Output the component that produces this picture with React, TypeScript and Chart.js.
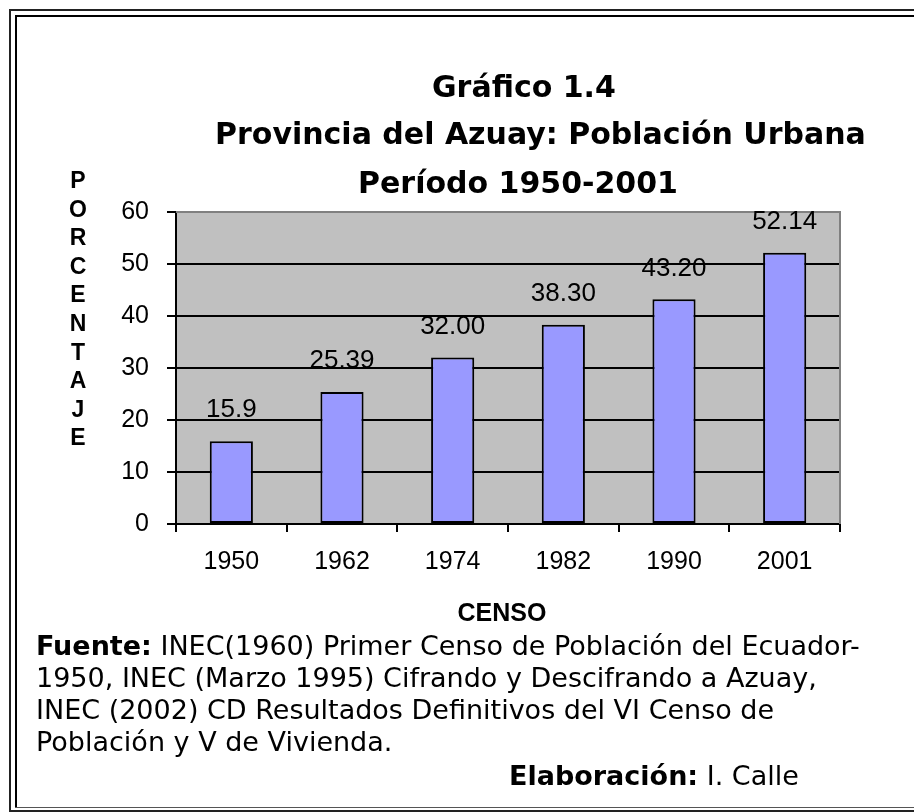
import React, { useEffect, useRef } from 'react';
import { Chart, registerables } from 'chart.js';

Chart.register(...registerables);

// ---- data ----
const categories = ['1950', '1962', '1974', '1982', '1990', '2001'];
const values = [15.9, 25.39, 32.0, 38.3, 43.2, 52.14];
const valueLabels = ['15.9', '25.39', '32.00', '38.30', '43.20', '52.14'];
const yTicks = [0, 10, 20, 30, 40, 50, 60];
const titleLines = ['Gráfico 1.4', 'Provincia del Azuay: Población Urbana', 'Período 1950-2001'];
const yAxisTitle = 'PORCENTAJE';
const xAxisTitle = 'CENSO';
const sourceLabel = 'Fuente:';
const sourceLines = [
  ' INEC(1960) Primer Censo de Población del Ecuador-',
  '1950, INEC (Marzo 1995) Cifrando y Descifrando a Azuay,',
  'INEC (2002) CD Resultados Definitivos del VI Censo de',
  'Población y V de Vivienda.',
];
const authorLabel = 'Elaboración:';
const authorName = ' I. Calle';

const ARIAL = '"Liberation Sans", Arial, sans-serif';
const VERDANA = '"DejaVu Sans", Verdana, sans-serif';

const decorPlugin = {
  id: 'decor',
  beforeDraw(chart: any) {
    const { ctx, chartArea: a, width, height } = chart;
    ctx.save();
    // double frame (left, top, bottom)
    ctx.fillStyle = '#222';
    ctx.fillRect(1, 1, 2, height - 3);
    ctx.fillRect(1, 1, width, 2);
    ctx.fillRect(1, height - 2, width, 2);
    ctx.fillStyle = '#000';
    ctx.fillRect(7, 7, 2, height - 11);
    ctx.fillRect(7, 7, width, 2);
    ctx.fillStyle = '#555';
    ctx.fillRect(7, height - 5, width, 1);
    // plot background
    ctx.fillStyle = '#c0c0c0';
    ctx.fillRect(a.left, a.top, a.right - a.left, a.bottom - a.top);
    ctx.restore();
  },
  beforeDatasetsDraw(chart: any) {
    const { ctx, chartArea: a } = chart;
    ctx.save();
    ctx.strokeStyle = '#808080';
    ctx.lineWidth = 2;
    ctx.beginPath();
    ctx.moveTo(a.left, a.top);
    ctx.lineTo(a.right, a.top);
    ctx.lineTo(a.right, a.bottom);
    ctx.stroke();
    ctx.restore();
  },
  afterDatasetsDraw(chart: any) {
    const { ctx } = chart;
    const meta = chart.getDatasetMeta(0);
    ctx.save();
    ctx.fillStyle = '#000';
    ctx.font = `26px ${ARIAL}`;
    ctx.textAlign = 'center';
    ctx.textBaseline = 'middle';
    meta.data.forEach((bar: any, i: number) => {
      ctx.fillText(valueLabels[i], bar.x, bar.y - 31);
    });
    ctx.restore();
  },
  afterDraw(chart: any) {
    const { ctx, chartArea: a } = chart;
    ctx.save();
    ctx.fillStyle = '#000';
    ctx.textBaseline = 'alphabetic';
    // title
    ctx.font = `bold 30px ${VERDANA}`;
    ctx.textAlign = 'left';
    const titleX = [424, 207, 350];
    const titleY = [89, 136, 185];
    titleLines.forEach((t, i) => ctx.fillText(t, titleX[i], titleY[i]));
    // y axis title, stacked letters
    ctx.font = `bold 23px ${ARIAL}`;
    ctx.textAlign = 'center';
    yAxisTitle.split('').forEach((ch, i) => ctx.fillText(ch, 70, 180 + i * 28.6));
    // x axis title
    ctx.font = `bold 25px ${ARIAL}`;
    ctx.fillText(xAxisTitle, (a.left + a.right) / 2 - 6, 613);
    // source notes
    ctx.textAlign = 'left';
    const left = 28;
    const base = 647;
    const step = 32;
    ctx.font = `bold 27px ${VERDANA}`;
    ctx.fillText(sourceLabel, left, base);
    const w = ctx.measureText(sourceLabel).width;
    ctx.font = `27px ${VERDANA}`;
    ctx.fillText(sourceLines[0], left + w, base);
    for (let i = 1; i < sourceLines.length; i++) {
      ctx.fillText(sourceLines[i], left, base + i * step);
    }
    const ax = 501;
    const ay = 777;
    ctx.font = `bold 27px ${VERDANA}`;
    ctx.fillText(authorLabel, ax, ay);
    const w2 = ctx.measureText(authorLabel).width;
    ctx.font = `27px ${VERDANA}`;
    ctx.fillText(authorName, ax + w2, ay);
    ctx.restore();
  },
};

export default function App() {
  const ref = useRef<HTMLCanvasElement>(null);
  useEffect(() => {
    if (!ref.current) return;
    const chart = new Chart(ref.current, {
      type: 'bar',
      data: {
        labels: categories,
        datasets: [
          {
            data: values,
            backgroundColor: '#9999ff',
            borderColor: '#000',
            borderWidth: 2,
            borderSkipped: false,
            barPercentage: 0.39,
            categoryPercentage: 1,
          },
        ],
      },
      options: {
        animation: false,
        responsive: false,
        devicePixelRatio: 1,
        layout: { padding: { left: 108, top: 204, right: 82, bottom: 208 } },
        plugins: {
          legend: { display: false },
          title: { display: false },
          tooltip: { enabled: false },
        },
        scales: {
          x: {
            offset: true,
            afterFit: (s: any) => {
              s.height = 80;
            },
            grid: {
              offset: true,
              drawOnChartArea: false,
              drawTicks: true,
              tickLength: 8,
              color: '#000',
              lineWidth: 2,
            },
            border: { display: true, color: '#000', width: 2 },
            ticks: {
              color: '#000',
              padding: 15,
              maxRotation: 0,
              font: { family: ARIAL, size: 25 },
            },
          },
          y: {
            min: 0,
            max: 60,
            afterFit: (s: any) => {
              s.width = 60;
            },
            afterBuildTicks: (s: any) => {
              s.ticks = yTicks.map((v) => ({ value: v }));
            },
            grid: {
              color: (c: any) => (c.tick && c.tick.value === 60 ? 'rgba(0,0,0,0)' : '#000'),
              tickColor: '#000',
              lineWidth: 2,
              tickLength: 9,
              drawTicks: true,
            },
            border: { display: true, color: '#000', width: 2 },
            ticks: {
              color: '#000',
              padding: 18,
              font: { family: ARIAL, size: 25 },
            },
          },
        },
      },
      plugins: [decorPlugin],
    });
    return () => chart.destroy();
  }, []);
  return <canvas ref={ref} width={914} height={804} style={{ display: 'block', width: 914, height: 804 }} />;
}
